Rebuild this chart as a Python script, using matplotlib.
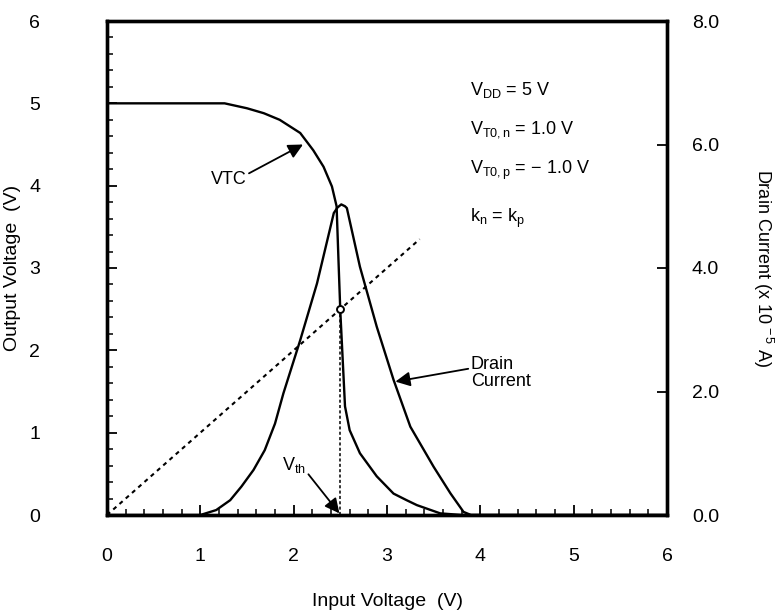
import matplotlib
matplotlib.use("Agg")
import matplotlib.pyplot as plt
from matplotlib.ticker import MultipleLocator, FixedLocator

plt.rcParams['font.family'] = ['Liberation Sans', 'DejaVu Sans']
plt.rcParams['mathtext.fontset'] = 'custom'
plt.rcParams['mathtext.rm'] = 'Liberation Sans'
plt.rcParams['mathtext.it'] = 'Liberation Sans:italic'

# --- data ---
vin_vtc = [0.0, 0.5, 1.0, 1.26, 1.50, 1.68, 1.85, 2.07, 2.21, 2.32, 2.41, 2.46,
           2.48, 2.50, 2.55, 2.60, 2.71, 2.89, 3.07, 3.21, 3.32, 3.57, 3.80, 4.5, 6.0]
vout_vtc = [5.0, 5.0, 5.0, 5.0, 4.94, 4.88, 4.80, 4.64, 4.43, 4.23, 3.99, 3.75,
            3.10, 2.47, 1.32, 1.03, 0.75, 0.47, 0.26, 0.18, 0.12, 0.02, 0.0, 0.0, 0.0]

vin_id = [0.0, 1.0, 1.17, 1.32, 1.44, 1.57, 1.69, 1.80, 1.89, 2.07, 2.25, 2.43,
          2.47, 2.51, 2.55, 2.57, 2.71, 2.89, 3.07, 3.25, 3.50, 3.68, 3.82, 3.90, 6.0]
id_vals = [0.0, 0.0, 0.08, 0.24, 0.46, 0.73, 1.05, 1.48, 1.97, 2.83, 3.75, 4.89,
           4.98, 5.03, 5.00, 4.97, 4.02, 3.05, 2.19, 1.43, 0.78, 0.35, 0.05, 0.0, 0.0]

vth = 2.5
diag_x = [0.0, 3.35]

x_ticks = [0, 1, 2, 3, 4, 5, 6]
y_ticks = [0, 1, 2, 3, 4, 5, 6]
y2_ticks = [0, 2, 4, 6, 8]
y2_labels = ["0.0", "2.0", "4.0", "6.0", "8.0"]

fig = plt.figure(figsize=(7.84, 6.13), dpi=100)
ax = fig.add_axes([107/784, 98/613, 560/784, 494/613])
ax2 = ax.twinx()

lw = 1.7
ax.plot(vin_vtc, vout_vtc, color='black', lw=lw, solid_joinstyle='round')
ax2.plot(vin_id, id_vals, color='black', lw=lw, solid_joinstyle='round')
ax.plot(diag_x, diag_x, color='black', lw=1.5, linestyle=(0, (2, 2)))
ax.plot([vth, vth], [0, vth], color='black', lw=1.1, linestyle=(0, (2, 1.5)))
ax.plot([vth], [vth], marker='o', ms=5, mfc='white', mec='black', mew=1.4, zorder=5)

ax.set_xlim(0, 6)
ax.set_ylim(0, 6)
ax2.set_ylim(0, 8)

ax.xaxis.set_major_locator(FixedLocator(x_ticks))
ax.xaxis.set_minor_locator(MultipleLocator(0.2))
ax.yaxis.set_major_locator(FixedLocator(y_ticks))
ax.yaxis.set_minor_locator(MultipleLocator(0.2))
ax2.yaxis.set_major_locator(FixedLocator(y2_ticks))
ax2.set_yticklabels(y2_labels)

ax.tick_params(axis='both', which='major', direction='in', length=7, width=1.3,
               labelsize=14, top=False, right=False)
ax.tick_params(axis='both', which='minor', direction='in', length=4, width=1.1,
               top=False, right=False)
ax.tick_params(axis='x', which='major', pad=24)
ax.tick_params(axis='y', which='major', pad=48)
ax2.tick_params(axis='y', which='major', direction='in', length=7, width=1.3,
                labelsize=14, pad=18)

for a in (ax, ax2):
    for s in a.spines.values():
        s.set_linewidth(2.4)

ax.set_xlabel("Input Voltage  (V)", fontsize=14, labelpad=20)
ax.set_ylabel("Output Voltage  (V)", fontsize=14, labelpad=6)
ax2.set_ylabel("Drain Current (x 10$^{\\,-5}$ A)", fontsize=13, rotation=270, labelpad=40)

arrow = dict(arrowstyle='-|>', color='black', lw=1.3, mutation_scale=22,
             shrinkA=0, shrinkB=0)
ax.annotate("VTC", xy=(2.10, 4.50), xytext=(1.30, 4.07), fontsize=13,
            ha='center', va='center', arrowprops=dict(arrow, relpos=(1.0, 0.8)))
ax.annotate("Drain\nCurrent", xy=(3.09, 1.62), xytext=(3.90, 1.72), fontsize=13,
            ha='left', va='center', linespacing=1.0,
            arrowprops=dict(arrow, relpos=(0.0, 0.65)))
ax.annotate("V$_{\\mathrm{th}}$", xy=(2.49, 0.02), xytext=(2.0, 0.61), fontsize=13,
            ha='center', va='center', arrowprops=dict(arrow, relpos=(1.0, 0.2)))

params = ["V$_{\\mathrm{DD}}$ = 5 V",
          "V$_{\\mathrm{T0,n}}$ = 1.0 V",
          "V$_{\\mathrm{T0,p}}$ = \u2212 1.0 V",
          "k$_{\\mathrm{n}}$ = k$_{\\mathrm{p}}$"]
param_y = [5.16, 4.68, 4.19, 3.60]
for t, yy in zip(params, param_y):
    ax.text(3.89, yy, t, fontsize=13, ha='left', va='center')

fig.savefig("out.png", dpi=100)
